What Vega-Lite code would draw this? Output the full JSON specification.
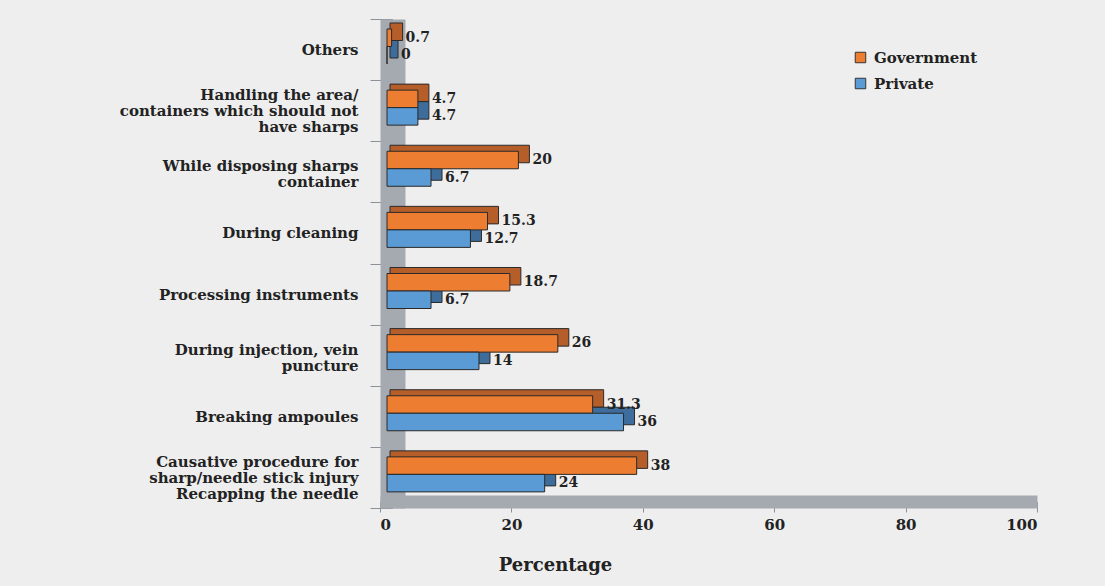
{
  "$schema": "https://vega.github.io/schema/vega-lite/v6.json",
  "width": 657,
  "height": 489,
  "autosize": "none",
  "padding": {"left": 380, "top": 19, "right": 68, "bottom": 78},
  "background": "#eeeeee",
  "config": {"view": {"stroke": null}, "font": "DejaVu Serif"},
  "data": {
    "values": [
      {"cause": "Others", "sector": "Government", "percent": 0.7},
      {"cause": "Others", "sector": "Private", "percent": 0},
      {"cause": "Handling the area/containers which should not have sharps", "sector": "Government", "percent": 4.7},
      {"cause": "Handling the area/containers which should not have sharps", "sector": "Private", "percent": 4.7},
      {"cause": "While disposing sharps container", "sector": "Government", "percent": 20},
      {"cause": "While disposing sharps container", "sector": "Private", "percent": 6.7},
      {"cause": "During cleaning", "sector": "Government", "percent": 15.3},
      {"cause": "During cleaning", "sector": "Private", "percent": 12.7},
      {"cause": "Processing instruments", "sector": "Government", "percent": 18.7},
      {"cause": "Processing instruments", "sector": "Private", "percent": 6.7},
      {"cause": "During injection, vein puncture", "sector": "Government", "percent": 26},
      {"cause": "During injection, vein puncture", "sector": "Private", "percent": 14},
      {"cause": "Breaking ampoules", "sector": "Government", "percent": 31.3},
      {"cause": "Breaking ampoules", "sector": "Private", "percent": 36},
      {"cause": "Causative procedure for sharp/needle stick injury Recapping the needle", "sector": "Government", "percent": 38},
      {"cause": "Causative procedure for sharp/needle stick injury Recapping the needle", "sector": "Private", "percent": 24}
    ]
  },
  "encoding": {
    "y": {
      "field": "cause",
      "type": "nominal",
      "sort": null,
      "scale": {"type": "band", "paddingInner": 0, "paddingOuter": 0},
      "axis": {
        "title": null,
        "offset": -12.5,
        "domainWidth": 25,
        "domainColor": "#a5aab1",
        "tickBand": "extent",
        "tickSize": 22.5,
        "tickColor": "#8d9299",
        "labelPadding": 12,
        "labelFont": "DejaVu Serif",
        "labelFontWeight": "bold",
        "labelFontSize": 15,
        "labelColor": "#222222",
        "labelAlign": "right",
        "labelBaseline": "middle",
        "labelLineHeight": 16,
        "labelLimit": 400,
        "labelExpr": "datum.value == 'Handling the area/containers which should not have sharps' ? ['Handling the area/', 'containers which should not', 'have sharps'] : datum.value == 'While disposing sharps container' ? ['While disposing sharps', 'container'] : datum.value == 'During injection, vein puncture' ? ['During injection, vein', 'puncture'] : datum.value == 'Causative procedure for sharp/needle stick injury Recapping the needle' ? ['Causative procedure for', 'sharp/needle stick injury', 'Recapping the needle'] : datum.label",
        "labelOffset": {
          "condition": [
            {"test": "datum.value == 'Handling the area/containers which should not have sharps' || datum.value == 'Causative procedure for sharp/needle stick injury Recapping the needle'", "value": -16},
            {"test": "datum.value == 'While disposing sharps container' || datum.value == 'During injection, vein puncture'", "value": -6}
          ],
          "value": 0
        }
      }
    },
    "yOffset": {
      "field": "sector",
      "type": "nominal",
      "sort": ["Government", "Private"],
      "scale": {"type": "band", "paddingInner": 0, "paddingOuter": 0.746, "align": 0.383}
    },
    "x": {
      "field": "percent",
      "type": "quantitative",
      "stack": null,
      "scale": {"domain": [0, 100]},
      "axis": {
        "values": [0, 20, 40, 60, 80, 100],
        "grid": false,
        "offset": -6.5,
        "domainWidth": 13,
        "domainColor": "#a5aab1",
        "tickSize": 10.5,
        "tickColor": "#8d9299",
        "labelPadding": 5,
        "labelFont": "DejaVu Serif",
        "labelFontWeight": "bold",
        "labelFontSize": 15,
        "labelColor": "#222222",
        "title": "Percentage",
        "titleFont": "DejaVu Serif",
        "titleFontWeight": "bold",
        "titleFontSize": 18,
        "titleColor": "#222222",
        "titleX": 175,
        "titleY": 63.5,
        "titleAlign": "center",
        "titleBaseline": "middle"
      }
    }
  },
  "layer": [
    {
      "mark": {"type": "bar", "xOffset": 18, "x2Offset": 10, "stroke": "#2a2a2a", "strokeWidth": 1},
      "encoding": {
        "x2": {"datum": 0},
        "yOffset": {
          "field": "sector",
          "type": "nominal",
          "sort": ["Government", "Private"],
          "scale": {"type": "band", "paddingInner": 0, "paddingOuter": 0.746, "align": 0.153}
        },
        "color": {
          "field": "sector",
          "type": "nominal",
          "scale": {"domain": ["Government", "Private"], "range": ["#b55e2a", "#3e6d9c"]},
          "legend": null
        }
      }
    },
    {
      "mark": {"type": "bar", "xOffset": 7, "x2Offset": 7, "stroke": "#2a2a2a", "strokeWidth": 1},
      "encoding": {
        "x2": {"datum": 0},
        "color": {
          "field": "sector",
          "type": "nominal",
          "scale": {"domain": ["Government", "Private"], "range": ["#ed7d31", "#5b9bd5"]},
          "legend": {
            "orient": "none",
            "legendX": 473,
            "legendY": 31,
            "title": null,
            "padding": 0,
            "symbolType": "square",
            "symbolSize": 110,
            "symbolStrokeColor": "#333333",
            "symbolStrokeWidth": 1,
            "labelFont": "DejaVu Serif",
            "labelFontWeight": "bold",
            "labelFontSize": 15,
            "labelColor": "#222222",
            "labelOffset": 6,
            "rowPadding": 10
          }
        }
      }
    },
    {
      "mark": {"type": "text", "align": "left", "baseline": "middle", "dx": 21, "font": "DejaVu Serif", "fontWeight": "bold", "fontSize": 14, "color": "#222222"},
      "encoding": {
        "text": {"field": "percent", "type": "quantitative", "format": ".1~f"}
      }
    }
  ],
  "resolve": {"scale": {"color": "independent", "yOffset": "independent"}}
}
